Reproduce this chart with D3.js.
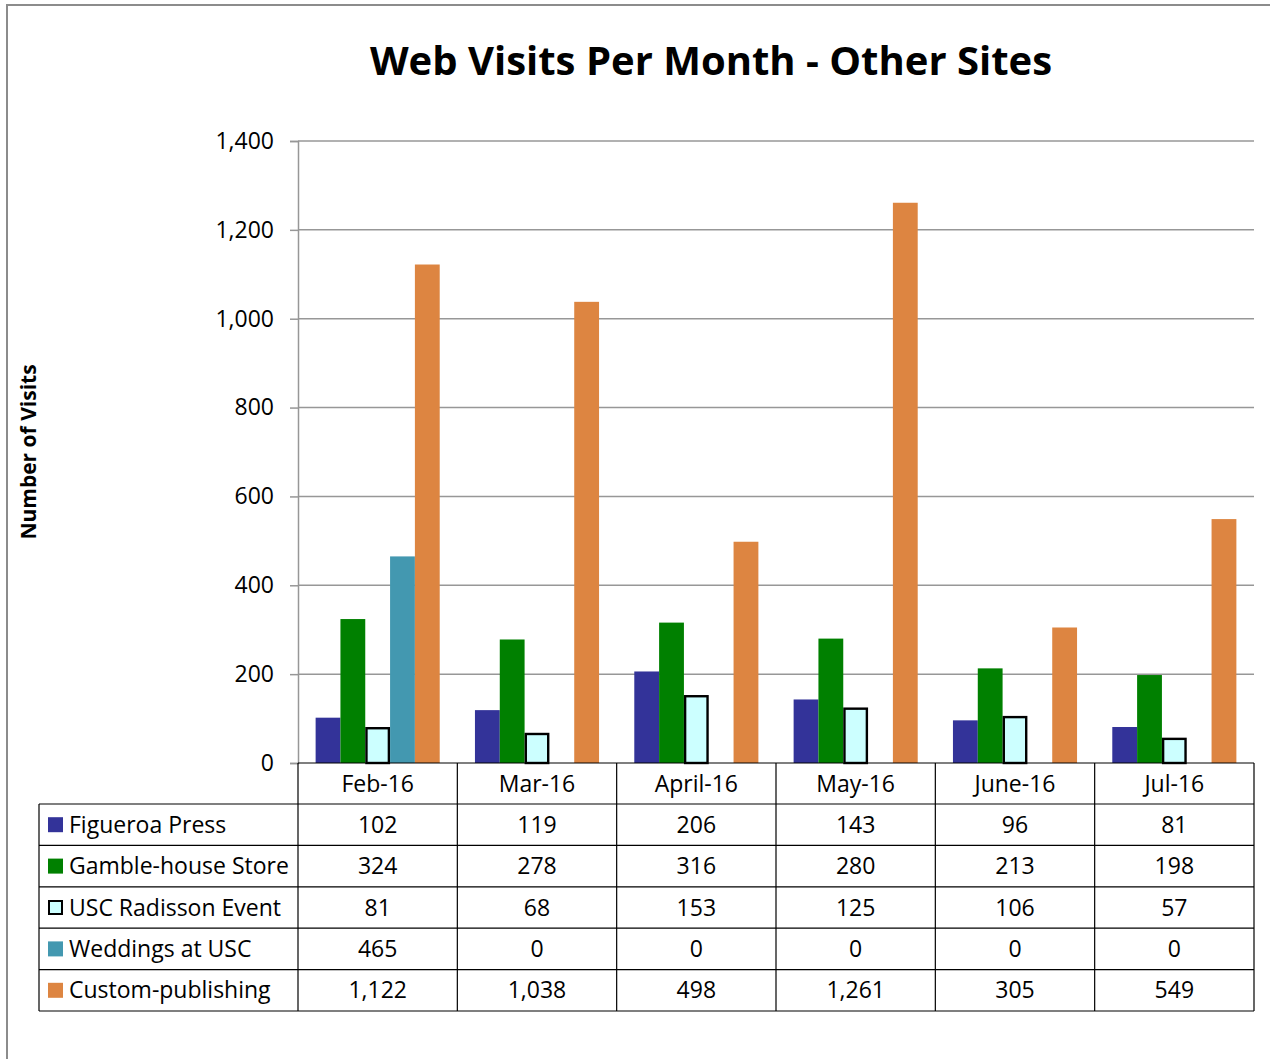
<!DOCTYPE html>
<html>
<head>
<meta charset="utf-8">
<script src="https://cdn.jsdelivr.net/npm/d3@7"></script>
<style>
  body { margin: 0; background: #fff; }
  text { font-family: "Open Sans", Lato, sans-serif; fill: #000; }
</style>
</head>
<body>
<svg id="chart" width="1270" height="1059"></svg>
<script>
const months = ["Feb-16", "Mar-16", "April-16", "May-16", "June-16", "Jul-16"];
const seriesNames = ["Figueroa Press", "Gamble-house Store", "USC Radisson Event", "Weddings at USC", "Custom-publishing"];
const figueroa = [102, 119, 206, 143, 96, 81];
const gamble = [324, 278, 316, 280, 213, 198];
const radisson = [81, 68, 153, 125, 106, 57];
const weddings = [465, 0, 0, 0, 0, 0];
const custom = [1122, 1038, 498, 1261, 305, 549];
const yTicks = [0, 200, 400, 600, 800, 1000, 1200, 1400];

const seriesValues = [figueroa, gamble, radisson, weddings, custom];
const colors = ["#333399", "#008000", "#ccffff", "#4398b0", "#dd8541"];

const svg = d3.select("#chart");
const plotLeft = 298, plotRight = 1254, plotTop = 141, plotBottom = 763;
const rowH = 41.4, headH = 41, tableLeft = 39;
const fontSize = "23px";

// frame
svg.append("rect")
    .attr("x", 7).attr("y", 5)
    .attr("width", 1280).attr("height", 1080)
    .attr("fill", "none").attr("stroke", "#8c8c8c").attr("stroke-width", 2);

const x = d3.scaleBand().domain(months).range([plotLeft, plotRight]).padding(0);
const xs = d3.scaleBand().domain(seriesNames).range([0, x.bandwidth()])
    .paddingInner(0).paddingOuter(0.71);
const y = d3.scaleLinear().domain([0, 1400]).range([plotBottom, plotTop]);

// gridlines
svg.append("g").selectAll("line")
    .data(yTicks.filter(d => d > 0))
    .join("line")
    .attr("x1", plotLeft).attr("x2", plotRight)
    .attr("y1", d => y(d)).attr("y2", d => y(d))
    .attr("stroke", "#979797").attr("stroke-width", 1.5);

// y axis
const yAxis = svg.append("g")
    .attr("transform", `translate(${plotLeft},0)`)
    .call(d3.axisLeft(y).tickValues(yTicks).tickSize(8).tickPadding(16)
        .tickFormat(d3.format(",")));
yAxis.select(".domain").attr("stroke", "#979797").attr("stroke-width", 1.5);
yAxis.selectAll(".tick line").attr("stroke", "#979797").attr("stroke-width", 1.5);
yAxis.selectAll(".tick text")
    .style("font-size", fontSize).attr("fill", "#000").attr("font-family", "Open Sans, sans-serif");

// bars
seriesNames.forEach((name, si) => {
  const inset = si === 2 ? 1.2 : 0;
  svg.append("g").selectAll("rect")
    .data(months.map((m, i) => ({ m, v: seriesValues[si][i] })).filter(d => d.v > 0))
    .join("rect")
    .attr("x", d => x(d.m) + xs(name) + inset)
    .attr("width", xs.bandwidth() - 2 * inset)
    .attr("y", d => y(d.v) + inset)
    .attr("height", d => plotBottom - y(d.v) - inset)
    .attr("fill", colors[si])
    .attr("stroke", si === 2 ? "#000" : "none")
    .attr("stroke-width", si === 2 ? 2.4 : 0);
});

// data table
const table = svg.append("g");
const rowsBottom = plotBottom + headH + rowH * seriesNames.length;
table.append("line")
    .attr("x1", plotLeft).attr("x2", plotRight).attr("y1", plotBottom).attr("y2", plotBottom)
    .attr("stroke", "#000").attr("stroke-width", 1.2);
d3.range(seriesNames.length + 1).forEach(i => {
  const yy = plotBottom + headH + rowH * i;
  table.append("line")
    .attr("x1", tableLeft).attr("x2", plotRight).attr("y1", yy).attr("y2", yy)
    .attr("stroke", "#000").attr("stroke-width", 1.2);
});
table.append("line")
    .attr("x1", tableLeft).attr("x2", tableLeft)
    .attr("y1", plotBottom + headH).attr("y2", rowsBottom)
    .attr("stroke", "#000").attr("stroke-width", 1.2);
d3.range(months.length + 1).forEach(i => {
  const xx = plotLeft + x.step() * i;
  table.append("line")
    .attr("x1", xx).attr("x2", xx).attr("y1", plotBottom).attr("y2", rowsBottom)
    .attr("stroke", "#000").attr("stroke-width", 1.2);
});
// header labels
table.selectAll("text.head")
  .data(months).join("text")
  .attr("class", "head")
  .attr("x", d => x(d) + x.bandwidth() / 2)
  .attr("y", plotBottom + headH / 2)
  .attr("dy", "0.35em")
  .attr("text-anchor", "middle")
  .style("font-size", fontSize)
  .text(d => d);
// rows
seriesNames.forEach((name, si) => {
  const cy = plotBottom + headH + rowH * si + rowH / 2;
  table.append("rect")
    .attr("x", 48 + (si === 2 ? 1 : 0)).attr("y", cy - 7.5 + (si === 2 ? 1 : 0))
    .attr("width", si === 2 ? 13 : 15).attr("height", si === 2 ? 13 : 15)
    .attr("fill", colors[si])
    .attr("stroke", si === 2 ? "#000" : "none")
    .attr("stroke-width", si === 2 ? 2 : 0);
  table.append("text")
    .attr("x", 69).attr("y", cy).attr("dy", "0.35em")
    .style("font-size", fontSize)
    .text(name);
  table.selectAll(null)
    .data(months.map((m, i) => ({ m, v: seriesValues[si][i] })))
    .join("text")
    .attr("x", d => x(d.m) + x.bandwidth() / 2)
    .attr("y", cy).attr("dy", "0.35em")
    .attr("text-anchor", "middle")
    .style("font-size", fontSize)
    .text(d => d3.format(",")(d.v));
});

// title
svg.append("text")
    .attr("x", 711).attr("y", 61).attr("dy", "0.35em")
    .attr("text-anchor", "middle")
    .style("font-size", "40px").style("font-weight", "bold")
    .text("Web Visits Per Month - Other Sites");

// y axis title
svg.append("text")
    .attr("transform", "translate(29,452) rotate(-90)")
    .attr("dy", "0.35em")
    .attr("text-anchor", "middle")
    .style("font-size", "21px").style("font-weight", "bold")
    .text("Number of Visits");
</script>
</body>
</html>
